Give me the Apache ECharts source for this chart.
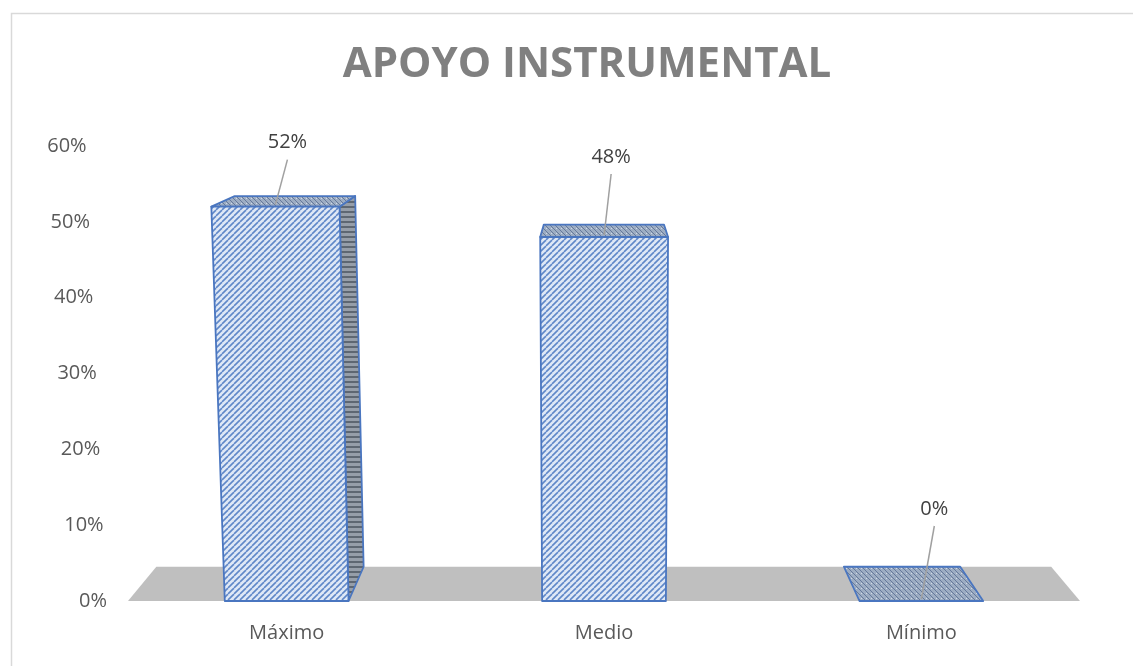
<!DOCTYPE html>
<html><head><meta charset="utf-8">
<script src="https://cdn.jsdelivr.net/npm/echarts@6/dist/echarts.min.js"></script>
<style>html,body{margin:0;padding:0;background:#fff}#c{width:1133px;height:666px}</style>
</head><body><div id="c"></div>
<script>
// ---- data ----
const categories = ['Máximo', 'Medio', 'Mínimo'];
const values = [0.52, 0.48, 0.00];
const yTickValues = [0, 0.1, 0.2, 0.3, 0.4, 0.5, 0.6];
const chartTitle = 'APOYO INSTRUMENTAL';

// ---- layout / style constants ----
const GRID = { left: 128, right: 53, top: 146, bottom: 65 };
const VP = [600, 30];      // vanishing point for depth
const DEPTH = 0.06;        // depth factor
const VERT_D = 11000;      // vertical convergence distance
const CX = 600;
const labelShift = [[12, -64], [7, -80], [13, -92]];

function makePattern(bg, draw, size) {
  const c = document.createElement('canvas');
  c.width = c.height = size;
  const g = c.getContext('2d');
  g.fillStyle = bg; g.fillRect(0, 0, size, size);
  draw(g, size);
  return { image: c, repeat: 'repeat' };
}
const frontPat = makePattern('#dfe8f6', (g, s) => {
  g.strokeStyle = '#5f87c8'; g.lineWidth = 1.6;
  for (let o = -s; o <= s; o += s) {
    g.beginPath(); g.moveTo(o, s); g.lineTo(o + s, 0); g.stroke();
  }
}, 6);
const topPat = makePattern('#9dadc3', (g, s) => {
  g.strokeStyle = '#66799a'; g.lineWidth = 1;
  for (let o = -s; o <= s; o += s) {
    g.beginPath(); g.moveTo(o, 0); g.lineTo(o + s, s); g.stroke();
  }
  g.fillStyle = '#d0d9e6'; g.fillRect(1, 3, 1, 1);
}, 5);
const sidePat = makePattern('#969ea9', (g, s) => {
  g.strokeStyle = '#59616d'; g.lineWidth = 1.8;
  g.beginPath(); g.moveTo(0, 2); g.lineTo(s, 2); g.stroke();
}, 5);

const EDGE = '#4a76c0';

function persp(x, y, y0) { return [CX + (x - CX) * (1 + (y0 - y) / VERT_D), y]; }
function back(p) { return [p[0] + DEPTH * (VP[0] - p[0]), p[1] + DEPTH * (VP[1] - p[1])]; }

const chartHeight = 666;
const baseY = chartHeight - GRID.bottom;
const plotH = baseY - GRID.top;

const rich = {};
yTickValues.forEach((v, i) => {
  const y = baseY - v / 0.6 * plotH;
  const shift = (CX - (GRID.left - 21)) * (baseY - y) / VERT_D;
  rich['p' + i] = { fontSize: 20, fontFamily: 'Open Sans', color: '#595959', padding: [0, shift, 0, 0] };
});

const chart = echarts.init(document.getElementById('c'));
chart.setOption({
  backgroundColor: '#ffffff',
  animation: false,
  title: {
    text: chartTitle,
    left: 582, top: 39, textAlign: 'center',
    textStyle: { fontFamily: 'Open Sans', fontWeight: 'bold', fontSize: 42, color: '#808080' }
  },
  graphic: [{
    type: 'rect', z: -10,
    shape: { x: 11.5, y: 13.5, width: 1300, height: 800 },
    style: { fill: 'none', stroke: '#d9d9d9', lineWidth: 1.5 }
  }],
  grid: GRID,
  xAxis: {
    type: 'category', data: categories,
    axisLine: { show: false }, axisTick: { show: false },
    axisLabel: { color: '#595959', fontSize: 20, fontFamily: 'Open Sans', margin: 22 }
  },
  yAxis: {
    type: 'value', min: 0, max: 0.6, interval: 0.1,
    axisLine: { show: false }, axisTick: { show: false }, splitLine: { show: false },
    axisLabel: {
      margin: 21, fontSize: 20, fontFamily: 'Open Sans', color: '#595959',
      formatter: (v) => {
        const i = yTickValues.findIndex(t => Math.abs(t - v) < 1e-9);
        return '{p' + i + '|' + Math.round(v * 100) + '%}';
      },
      rich: rich
    }
  },
  series: [{
    type: 'custom', name: 'floor', z: 1,
    data: [[0, 0]],
    encode: { x: 0, y: 1 },
    renderItem: (params) => {
      const cs = params.coordSys;
      const yb = cs.y + cs.height;
      const a = [cs.x, yb], b = [cs.x + cs.width, yb];
      return { type: 'polygon', shape: { points: [a, b, back(b), back(a)] }, style: { fill: '#bfbfbf' } };
    }
  }, {
    type: 'custom', name: 'Apoyo instrumental', z: 5,
    data: categories.map((c, i) => [i, values[i]]),
    encode: { x: 0, y: 1 },
    renderItem: (params, api) => {
      const idx = api.value(0), v = api.value(1);
      const base = api.coord([idx, 0]);
      const top = api.coord([idx, v]);
      const bw = api.size([1, 0])[0] * 0.39;
      const y0 = base[1];
      const fbl = [base[0] - bw / 2, y0], fbr = [base[0] + bw / 2, y0];
      const ftl = persp(base[0] - bw / 2, top[1], y0), ftr = persp(base[0] + bw / 2, top[1], y0);
      const children = [];
      const edge = { stroke: EDGE, lineWidth: 1.8, lineJoin: 'round' };
      if (y0 - top[1] > 0.5) {
        if (ftr[0] < VP[0]) children.push({ type: 'polygon', shape: { points: [fbr, ftr, back(ftr), back(fbr)] }, style: Object.assign({ fill: sidePat }, edge) });
        if (ftl[0] > VP[0]) children.push({ type: 'polygon', shape: { points: [fbl, ftl, back(ftl), back(fbl)] }, style: Object.assign({ fill: sidePat }, edge) });
      }
      children.push({ type: 'polygon', shape: { points: [ftl, ftr, back(ftr), back(ftl)] }, style: Object.assign({ fill: topPat }, edge) });
      if (y0 - top[1] > 0.5) {
        children.push({ type: 'polygon', shape: { points: [fbl, fbr, ftr, ftl] }, style: Object.assign({ fill: frontPat }, edge) });
      }
      const anchor = persp(base[0], top[1], y0);
      const lc = [anchor[0] + labelShift[idx][0], anchor[1] + labelShift[idx][1]];
      children.push({ type: 'line', z2: 10, shape: { x1: lc[0], y1: lc[1] + 17, x2: anchor[0], y2: anchor[1] - 2 }, style: { stroke: '#a0a0a0', lineWidth: 1.5 } });
      children.push({ type: 'text', z2: 10, x: lc[0], y: lc[1], style: { text: Math.round(v * 100) + '%', fontSize: 20, fontFamily: 'Open Sans', fill: '#404040', align: 'center', verticalAlign: 'middle' } });
      return { type: 'group', children: children };
    }
  }]
});
</script>
</body></html>
